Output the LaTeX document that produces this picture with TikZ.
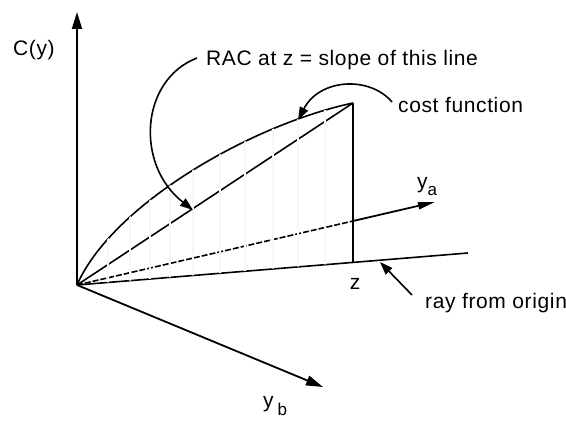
\documentclass[tikz,border=0pt]{standalone}
\usepackage{fontspec}
\setmainfont{Liberation Sans}[LetterSpace=3]
\usetikzlibrary{arrows.meta, positioning}
\tikzset{
  axis/.style={
    -{Triangle[length=17pt,width=10pt]}, line width=1.9pt
  },
  curveline/.style={
    line width=1.6pt
  },
  pointer/.style={
    -{Triangle[length=13pt,width=9pt]}, line width=1.6pt
  },
  hatch/.style={
    black!3, line width=1.3pt
  },
  lbl/.style={
    font=\fontsize{21}{25}\selectfont, inner sep=0pt
  }
}

\begin{document}
\begin{tikzpicture}[x=1pt, y=-1pt]
  \useasboundingbox (0,0) rectangle (566,422);

  % ── Key points ─────────────────────────────────────────────────────────
  \coordinate (O)     at (77,285);
  \coordinate (ctop)  at (77,12);
  \coordinate (yb)    at (323,387);
  \coordinate (ya)    at (435,202);
  \coordinate (zcut)  at (353,221);
  \coordinate (ray)   at (468,253);
  \coordinate (top)   at (353,103);
  \coordinate (zfoot) at (353,262);

  % ── Cost function, chord and the ray below it ─────────────────────────
  \draw[curveline] (O) .. controls (112,205) and (250,125) .. (top);
  \draw[curveline] (O) -- (top);
  \draw[curveline] (top) -- (zfoot);
  \draw[curveline] (O) -- (ray);
  \draw[curveline, dash pattern=on 6pt off 2pt] (O) -- (zcut);

  % faint shading under the cost function
  \begin{scope}
    \clip (O) .. controls (112,205) and (250,125) .. (top) -- (zfoot) -- cycle;
    \foreach \hx in {108,130,150,170,193,220,245,273,298,325}
      \draw[hatch] (\hx,90) -- (\hx,300);
  \end{scope}

  % ── Axes ───────────────────────────────────────────────────────────────
  \draw[axis] (O) -- (ctop);
  \draw[axis, line width=1.8pt] (O) -- (yb);
  \draw[axis, line width=1.8pt, -{Triangle[length=17pt,width=7pt]}] (zcut) -- (ya);

  % axis labels
  \node[lbl, anchor=base west] (clabel) at (13,56) {C(y)};
  \node[lbl, anchor=base west] (yalabel) at (417,189)
    {y\raisebox{-7pt}{\fontsize{17}{19}\selectfont a}};
  \node[lbl, anchor=base west] (yblabel) at (263,408)
    {y\hspace{4pt}\raisebox{-8pt}{\fontsize{17}{19}\selectfont b}};
  \node[lbl, below=16pt of zfoot, xshift=2pt] (zlabel) {z};

  % ── Annotations ────────────────────────────────────────────────────────
  \node[lbl, anchor=base west] (raclabel) at (206,66) {RAC at z = slope of this line};
  \coordinate (racfrom) at (197,58);
  \coordinate (racto)   at (193,210);
  \draw[pointer] (racfrom) .. controls (140,80) and (135,165) .. (racto);

  \node[lbl, anchor=base west] (costlabel) at (398,113) {cost function};
  \coordinate (costfrom) at (392,102);
  \coordinate (costto)   at (298,120);
  \draw[pointer] (costfrom) .. controls (370,76) and (320,78) .. (costto);

  \node[lbl, anchor=base west] (raylabel) at (425,309) {ray from origin};
  \coordinate (rayfrom) at (412,295);
  \coordinate (rayto)   at (380,262);
  \draw[pointer] (rayfrom) -- (rayto);

\end{tikzpicture}
\end{document}
